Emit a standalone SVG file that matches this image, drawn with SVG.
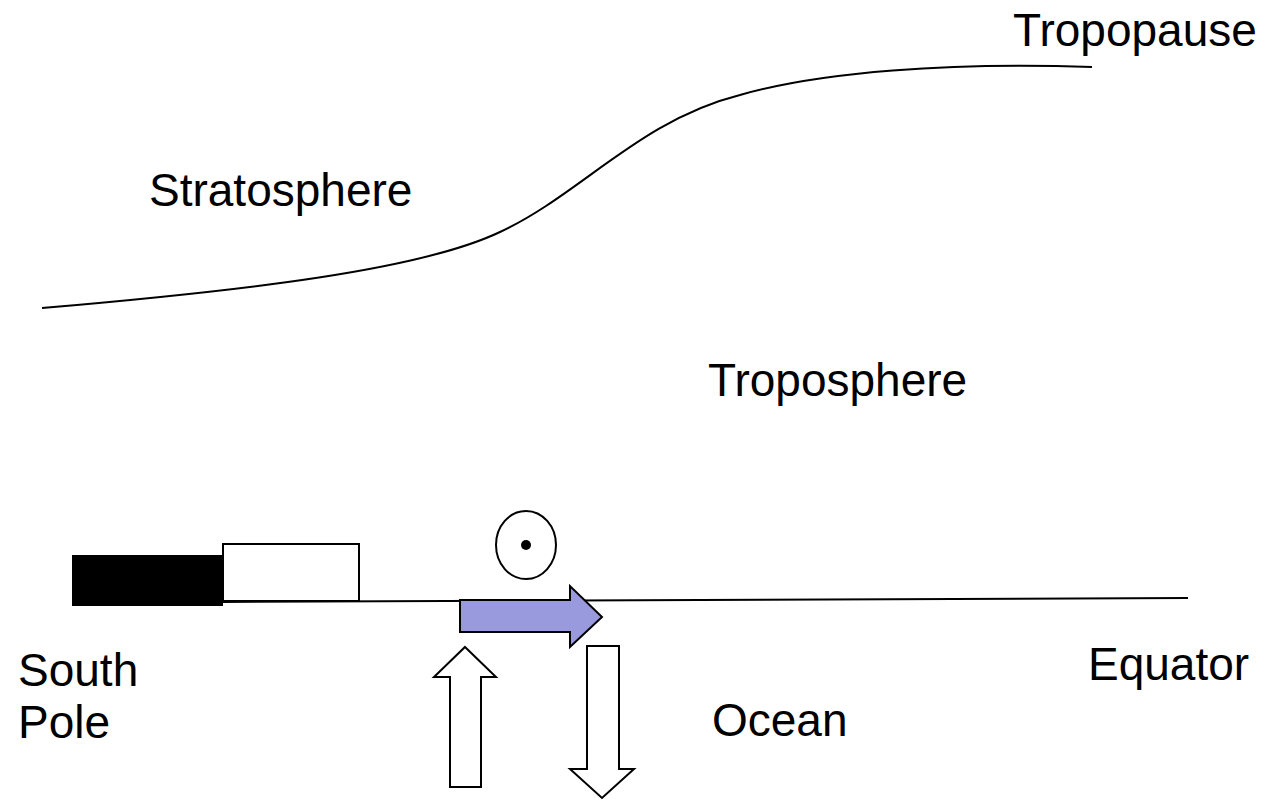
<svg xmlns="http://www.w3.org/2000/svg" width="1272" height="800" viewBox="0 0 1272 800">
<style>
text{font-family:"Liberation Sans",Arial,sans-serif;font-size:46px;fill:#000}
.ln{fill:none;stroke:#000;stroke-width:2}
.ol{stroke:#000;stroke-width:2}
</style>
<rect width="1272" height="800" fill="#fff"/>
<g id="lines">
<path class="ln" d="M42,308 C250,290 420,270 500,232 C580,195 640,120 740,95 C820,72 950,62 1092,67"/>
<path class="ln" d="M223,602 L1188,598"/>
</g>
<g id="labels">
<text x="1013" y="46">Tropopause</text>
<text x="149" y="206">Stratosphere</text>
<text x="708" y="396">Troposphere</text>
<text x="18" y="686">South</text>
<text x="18" y="738">Pole</text>
<text x="1088" y="680">Equator</text>
<text x="712" y="736">Ocean</text>
</g>
<g id="blocks">
<rect x="72" y="555" width="151" height="51" fill="#000"/>
<rect class="ol" x="223" y="544" width="136" height="57" fill="#fff"/>
</g>
<g id="symbol">
<ellipse class="ol" cx="526" cy="545" rx="30" ry="34" fill="#fff"/>
<circle cx="526" cy="545" r="5" fill="#000"/>
</g>
<g id="arrows">
<path class="ol" fill="#9999dd" d="M460,600 L570,600 L570,586 L602,617 L570,647 L570,632 L460,632 Z"/>
<path class="ol" fill="#fff" d="M465,647 L496,677 L481,677 L481,787 L450,787 L450,677 L434,677 Z"/>
<path class="ol" fill="#fff" d="M587,646 L619,646 L619,769 L634,769 L602,798 L570,769 L587,769 Z"/>
</g>
</svg>
